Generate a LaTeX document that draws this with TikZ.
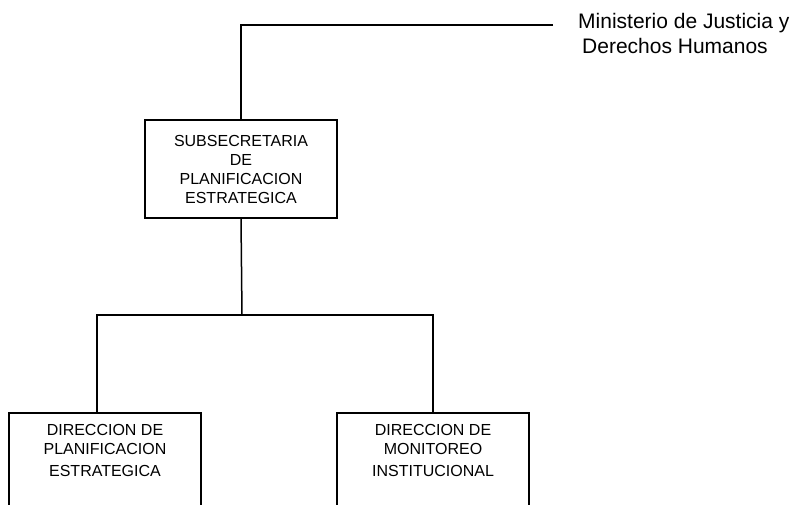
\documentclass[tikz,border=0pt]{standalone}
\usepackage{fontspec}
\setmainfont{Liberation Sans}
\begin{document}
\begin{tikzpicture}[x=1pt,y=-1pt,
  link/.style={line width=1.5pt},
  unitbox/.style={draw,line width=1.5pt,minimum width=192pt,inner sep=0pt},
  unittext/.style={align=center,inner sep=0pt,font=\fontsize{16}{19}\selectfont},
  headtext/.style={align=left,inner sep=0pt,anchor=north west,font=\fontsize{21}{25}\selectfont}]
\clip (0,0) rectangle (796,504);
\fill[white] (0,0) rectangle (796,504);

% ministry label and its line
\node[headtext] (min) at (578,13) {Ministerio de Justicia y\\\hspace*{4pt}Derechos Humanos};
\coordinate (minline) at (553,25);

% undersecretariat
\node[unitbox,minimum height=98pt] (sub) at (241,169) {};
\node[unittext] (subtxt) at (sub.center) {SUBSECRETARIA\\DE\\PLANIFICACION\\ESTRATEGICA};

% the two directorates (boxes run past the lower edge)
\node[unitbox,minimum height=120pt,anchor=north] (dp) at (105,412) {};
\node[unittext,anchor=north] (dptxt) at (105,424) {DIRECCION DE\\PLANIFICACION\\[3pt]ESTRATEGICA};
\node[unitbox,minimum height=120pt,anchor=north] (dm) at (433,412) {};
\node[unittext,anchor=north] (dmtxt) at (433,424) {DIRECCION DE\\MONITOREO\\[3pt]INSTITUCIONAL};

% connectors
\coordinate (fork) at (242,315);
\coordinate (dpjoin) at (97,412);
\draw[link] (minline) -| (sub.north);
\draw[link] (sub.south) -- (fork);
\draw[link] (dpjoin) |- (fork) -| (dm.north);
\end{tikzpicture}
\end{document}
